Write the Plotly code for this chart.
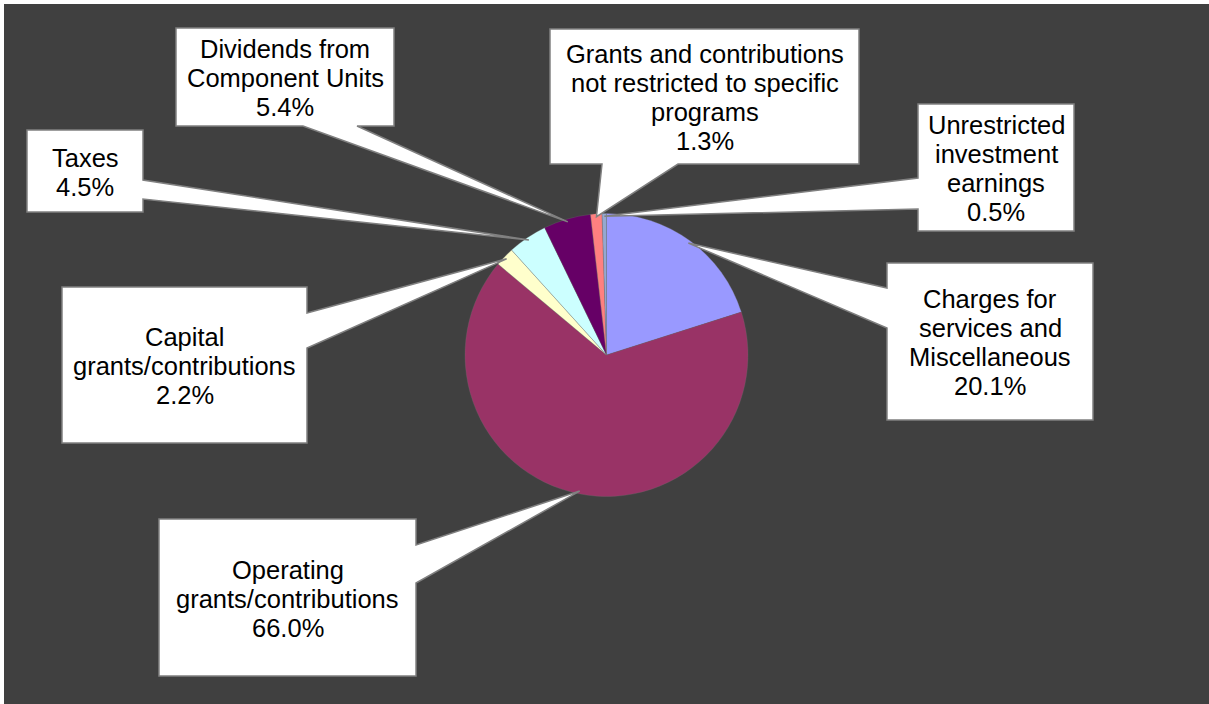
import math
import plotly.graph_objects as go

# ---- data ----
categories = [
    "Charges for services and Miscellaneous",
    "Operating grants/contributions",
    "Capital grants/contributions",
    "Taxes",
    "Dividends from Component Units",
    "Grants and contributions not restricted to specific programs",
    "Unrestricted investment earnings",
]
label_lines = [
    ["Charges for", "services and", "Miscellaneous"],
    ["Operating", "grants/contributions"],
    ["Capital", "grants/contributions"],
    ["Taxes"],
    ["Dividends from", "Component Units"],
    ["Grants and contributions", "not restricted to specific", "programs"],
    ["Unrestricted", "investment", "earnings"],
]
values = [20.1, 66.0, 2.2, 4.5, 5.4, 1.3, 0.5]
colors = ["#9999FF", "#993366", "#FFFFCC", "#CCFFFF", "#660066", "#FF8080", "#95A8D0"]

# ---- layout (pixels) ----
W, H = 1209, 704
CX, CY, R = 606.5, 355.0, 141.5
# callout boxes: (x0, y0, x1, y1, edge, base_a, base_b)
callouts = [
    (887, 263, 1093, 420, "left", 288, 328),
    (159, 519, 416, 676, "right", 545, 583),
    (62, 287, 307, 443, "right", 313, 348),
    (27, 130, 143, 212, "right", 180, 199),
    (176, 28, 394, 126, "bottom", 303, 357),
    (550, 29, 859, 164, "bottom", 602, 678),
    (918, 104, 1074, 231, "left", 178, 209),
]
FONT = "Liberation Sans, Arial, sans-serif"
FSIZE = 25.5
LINE_H = 29


def px(x):
    return x / W


def py(y):
    return 1 - y / H


fig = go.Figure(
    go.Pie(
        labels=categories,
        values=values,
        sort=False,
        direction="clockwise",
        rotation=0,
        marker=dict(colors=colors, line=dict(color="#6f6f6f", width=0.3)),
        textinfo="none",
        hoverinfo="label+percent",
        showlegend=False,
        domain=dict(x=[px(CX - R), px(CX + R)], y=[py(CY + R), py(CY - R)]),
    )
)

shapes = [
    dict(type="rect", xref="paper", yref="paper", x0=0, x1=1, y0=py(4), y1=1,
         fillcolor="white", line=dict(width=0), layer="below"),
    dict(type="rect", xref="paper", yref="paper", x0=0, x1=px(4), y0=0, y1=1,
         fillcolor="white", line=dict(width=0), layer="below"),
]
annotations = []

total = sum(values)
cum = 0.0
for i, v in enumerate(values):
    mid = (cum + v / 2) / total * 2 * math.pi
    cum += v
    tx = CX + R * 0.98 * math.sin(mid)
    ty = CY - R * 0.98 * math.cos(mid)
    x0, y0, x1, y1, edge, a, b = callouts[i]
    if edge == "right":
        pts = [(x0, y0), (x1, y0), (x1, a), (tx, ty), (x1, b), (x1, y1), (x0, y1)]
    elif edge == "left":
        pts = [(x0, y0), (x1, y0), (x1, y1), (x0, y1), (x0, b), (tx, ty), (x0, a)]
    else:
        pts = [(x0, y0), (x1, y0), (x1, y1), (b, y1), (tx, ty), (a, y1), (x0, y1)]
    path = "M " + " L ".join(f"{px(x):.5f},{py(y):.5f}" for x, y in pts) + " Z"
    shapes.append(dict(type="path", xref="paper", yref="paper", path=path,
                       fillcolor="white", line=dict(color="#808080", width=1.5),
                       layer="above"))
    lines = label_lines[i] + [f"{v:.1f}%"]
    n = len(lines)
    bc = (y0 + y1) / 2 + 1
    xc = (x0 + x1) / 2
    for j, t in enumerate(lines):
        yc = bc + (j - (n - 1) / 2) * LINE_H
        annotations.append(dict(xref="paper", yref="paper", x=px(xc), y=py(yc),
                                text=t, showarrow=False, xanchor="center",
                                yanchor="middle",
                                font=dict(family=FONT, size=FSIZE, color="black")))

fig.update_layout(
    width=W, height=H,
    margin=dict(l=0, r=0, t=0, b=0),
    paper_bgcolor="#404040",
    plot_bgcolor="#404040",
    shapes=shapes,
    annotations=annotations,
)

fig.write_html(
    "out.html",
    config={"displayModeBar": False},
    post_script="document.body.style.margin='0';document.body.style.overflow='hidden';",
)
